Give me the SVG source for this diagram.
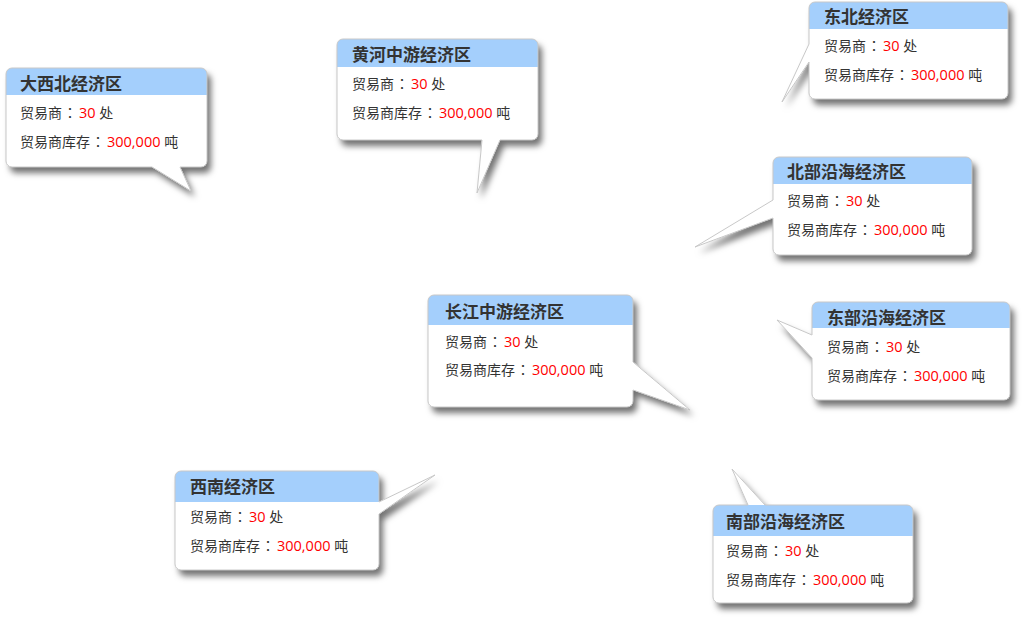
<svg xmlns="http://www.w3.org/2000/svg" xmlns:xlink="http://www.w3.org/1999/xlink" width="1029" height="625" viewBox="0 0 1029 625">
<style>
.body{fill:#fff;filter:url(#sh)}
.edge{fill:none;stroke:#c8c8c8;stroke-width:1}
.hdr{fill:#a4cffc}
.t{font-family:"Noto Sans CJK SC","Liberation Sans",sans-serif;font-size:17px;font-weight:bold;fill:#333}
.l{font-family:"Open Sans","Noto Sans CJK SC",sans-serif;font-size:14px;fill:#333}
.c{font-family:"Noto Sans CJK JP",sans-serif}
.n{fill:#f00;font-size:14.5px}
</style>
<defs>
<filter id="sh" x="-20%" y="-20%" width="150%" height="160%">
<feDropShadow dx="4" dy="6" stdDeviation="3" flood-color="#000" flood-opacity="0.55"/>
</filter>
<path id="p1" d="M12,68 H201 A6,6 0 0 1 207,74 V161 A6,6 0 0 1 201,167 H180 L191,191 L152,167 H12 A6,6 0 0 1 6,161 V74 A6,6 0 0 1 12,68 Z"/>
<path id="p2" d="M343,39 H532 A6,6 0 0 1 538,45 V134 A6,6 0 0 1 532,140 H500 L477,193 L482,140 H343 A6,6 0 0 1 337,134 V45 A6,6 0 0 1 343,39 Z"/>
<path id="p3" d="M815,2 H1002 A6,6 0 0 1 1008,8 V93 A6,6 0 0 1 1002,99 H815 A6,6 0 0 1 809,93 V62 L782,102 L809,44 V8 A6,6 0 0 1 815,2 Z"/>
<path id="p4" d="M779,157 H966 A6,6 0 0 1 972,163 V249 A6,6 0 0 1 966,255 H779 A6,6 0 0 1 773,249 V218 L695,247 L773,200 V163 A6,6 0 0 1 779,157 Z"/>
<path id="p5" d="M434,295 H627 A6,6 0 0 1 633,301 V362 L690,410 L633,390 V401 A6,6 0 0 1 627,407 H434 A6,6 0 0 1 428,401 V301 A6,6 0 0 1 434,295 Z"/>
<path id="p6" d="M818,302 H1004 A6,6 0 0 1 1010,308 V394 A6,6 0 0 1 1004,400 H818 A6,6 0 0 1 812,394 V358 L777,320 L812,335 V308 A6,6 0 0 1 818,302 Z"/>
<path id="p7" d="M181,471 H373 A6,6 0 0 1 379,477 V502 L435,475 L379,514 V564 A6,6 0 0 1 373,570 H181 A6,6 0 0 1 175,564 V477 A6,6 0 0 1 181,471 Z"/>
<path id="p8" d="M719,505 H748 L732,469 L765,505 H907 A6,6 0 0 1 913,511 V597 A6,6 0 0 1 907,603 H719 A6,6 0 0 1 713,597 V511 A6,6 0 0 1 719,505 Z"/>
</defs>
<g id="connectors"></g>

<g id="dxb">
<use xlink:href="#p1" class="body"/>
<path class="hdr" d="M6,95 V74 A6,6 0 0 1 12,68 H201 A6,6 0 0 1 207,74 V95 Z"/>
<use xlink:href="#p1" class="edge"/>
<text class="t" x="20" y="90">大西北经济区</text>
<text class="l" x="20" y="118">贸易商<tspan class="c" dx="1">：</tspan><tspan class="n" dx="2">30</tspan> 处</text>
<text class="l" x="20" y="147">贸易商库存<tspan class="c" dx="1">：</tspan><tspan class="n" dx="2">300,000</tspan> 吨</text>
</g>

<g id="hhzy">
<use xlink:href="#p2" class="body"/>
<path class="hdr" d="M337,67 V45 A6,6 0 0 1 343,39 H532 A6,6 0 0 1 538,45 V67 Z"/>
<use xlink:href="#p2" class="edge"/>
<text class="t" x="352" y="61">黄河中游经济区</text>
<text class="l" x="352" y="89">贸易商<tspan class="c" dx="1">：</tspan><tspan class="n" dx="2">30</tspan> 处</text>
<text class="l" x="352" y="118">贸易商库存<tspan class="c" dx="1">：</tspan><tspan class="n" dx="2">300,000</tspan> 吨</text>
</g>

<g id="db">
<use xlink:href="#p3" class="body"/>
<path class="hdr" d="M809,29 V8 A6,6 0 0 1 815,2 H1002 A6,6 0 0 1 1008,8 V29 Z"/>
<use xlink:href="#p3" class="edge"/>
<text class="t" x="824" y="23">东北经济区</text>
<text class="l" x="824" y="51">贸易商<tspan class="c" dx="1">：</tspan><tspan class="n" dx="2">30</tspan> 处</text>
<text class="l" x="824" y="80">贸易商库存<tspan class="c" dx="1">：</tspan><tspan class="n" dx="2">300,000</tspan> 吨</text>
</g>

<g id="bbyh">
<use xlink:href="#p4" class="body"/>
<path class="hdr" d="M773,184 V163 A6,6 0 0 1 779,157 H966 A6,6 0 0 1 972,163 V184 Z"/>
<use xlink:href="#p4" class="edge"/>
<text class="t" x="787" y="178">北部沿海经济区</text>
<text class="l" x="787" y="206">贸易商<tspan class="c" dx="1">：</tspan><tspan class="n" dx="2">30</tspan> 处</text>
<text class="l" x="787" y="235">贸易商库存<tspan class="c" dx="1">：</tspan><tspan class="n" dx="2">300,000</tspan> 吨</text>
</g>

<g id="cjzy">
<use xlink:href="#p5" class="body"/>
<path class="hdr" d="M428,325 V301 A6,6 0 0 1 434,295 H627 A6,6 0 0 1 633,301 V325 Z"/>
<use xlink:href="#p5" class="edge"/>
<text class="t" x="445" y="318">长江中游经济区</text>
<text class="l" x="445" y="347">贸易商<tspan class="c" dx="1">：</tspan><tspan class="n" dx="2">30</tspan> 处</text>
<text class="l" x="445" y="375">贸易商库存<tspan class="c" dx="1">：</tspan><tspan class="n" dx="2">300,000</tspan> 吨</text>
</g>

<g id="dbyh">
<use xlink:href="#p6" class="body"/>
<path class="hdr" d="M812,328 V308 A6,6 0 0 1 818,302 H1004 A6,6 0 0 1 1010,308 V328 Z"/>
<use xlink:href="#p6" class="edge"/>
<text class="t" x="827" y="324">东部沿海经济区</text>
<text class="l" x="827" y="352">贸易商<tspan class="c" dx="1">：</tspan><tspan class="n" dx="2">30</tspan> 处</text>
<text class="l" x="827" y="381">贸易商库存<tspan class="c" dx="1">：</tspan><tspan class="n" dx="2">300,000</tspan> 吨</text>
</g>

<g id="xn">
<use xlink:href="#p7" class="body"/>
<path class="hdr" d="M175,502 V477 A6,6 0 0 1 181,471 H373 A6,6 0 0 1 379,477 V502 Z"/>
<use xlink:href="#p7" class="edge"/>
<text class="t" x="190" y="493">西南经济区</text>
<text class="l" x="190" y="522">贸易商<tspan class="c" dx="1">：</tspan><tspan class="n" dx="2">30</tspan> 处</text>
<text class="l" x="190" y="551">贸易商库存<tspan class="c" dx="1">：</tspan><tspan class="n" dx="2">300,000</tspan> 吨</text>
</g>

<g id="nbyh">
<use xlink:href="#p8" class="body"/>
<path class="hdr" d="M713,536 V511 A6,6 0 0 1 719,505 H907 A6,6 0 0 1 913,511 V536 Z"/>
<use xlink:href="#p8" class="edge"/>
<text class="t" x="726" y="528">南部沿海经济区</text>
<text class="l" x="726" y="556">贸易商<tspan class="c" dx="1">：</tspan><tspan class="n" dx="2">30</tspan> 处</text>
<text class="l" x="726" y="585">贸易商库存<tspan class="c" dx="1">：</tspan><tspan class="n" dx="2">300,000</tspan> 吨</text>
</g>
</svg>
